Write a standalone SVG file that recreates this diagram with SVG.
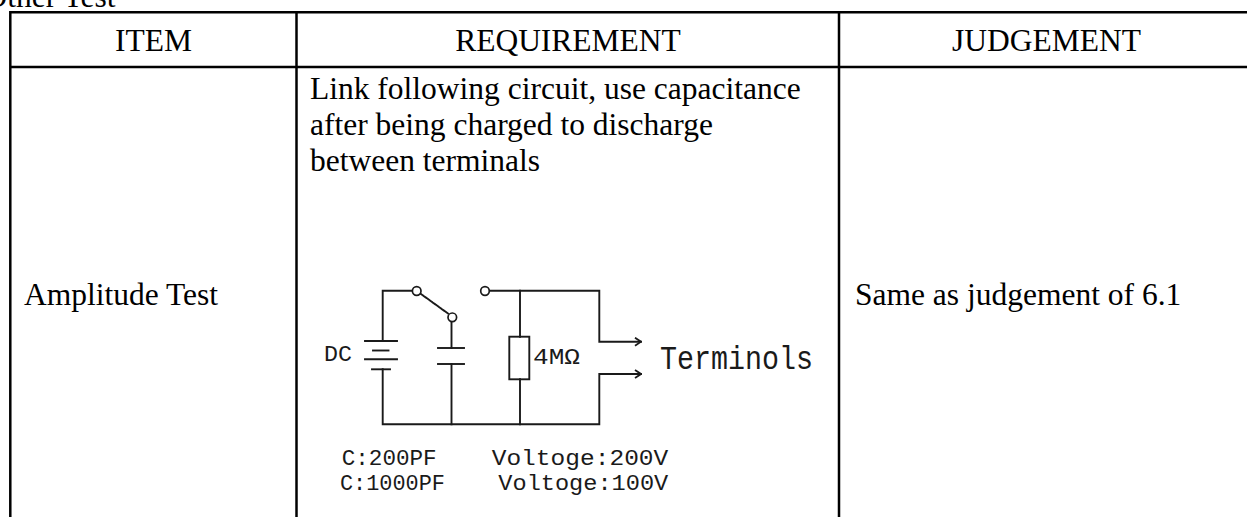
<svg xmlns="http://www.w3.org/2000/svg" width="1247" height="517" viewBox="0 0 1247 517">
<style>
.grid{stroke:#000;stroke-width:2.5;fill:none}
.t{font-family:"Liberation Serif","Times New Roman",serif;font-size:31.5px;fill:#000}
.w{stroke:#1a1a1a;stroke-width:1.9;fill:none;stroke-linecap:square}
.c{stroke:#1a1a1a;stroke-width:1.7;fill:#fff}
.m{font-family:"Liberation Mono","DejaVu Sans Mono",monospace;fill:#1a1a1a}
</style>
<defs>
<marker id="ah" viewBox="0 0 10 10" refX="9" refY="5" markerWidth="10" markerHeight="10" markerUnits="userSpaceOnUse" orient="auto">
<path d="M3,1 L9,5 L3,9" fill="none" stroke="#1a1a1a" stroke-width="1.8"/>
</marker>
</defs>
<rect width="1247" height="517" fill="#fff"/>
<text class="t" x="-15.5" y="6.5">Other Test</text>
<g id="table">
<line class="grid" x1="10.3" y1="12.2" x2="1247" y2="12.2"/>
<line class="grid" x1="10.3" y1="67" x2="1247" y2="67"/>
<line class="grid" x1="10.3" y1="11" x2="10.3" y2="517"/>
<line class="grid" x1="296.5" y1="11" x2="296.5" y2="517"/>
<line class="grid" x1="839" y1="11" x2="839" y2="517"/>
</g>
<g id="header">
<text class="t" x="153.5" y="51" text-anchor="middle">ITEM</text>
<text class="t" x="568" y="51" text-anchor="middle">REQUIREMENT</text>
<text class="t" x="1046.5" y="51" text-anchor="middle">JUDGEMENT</text>
</g>
<g id="item">
<text class="t" x="24" y="305">Amplitude Test</text>
</g>
<g id="requirement">
<text class="t" x="310" y="99">Link following circuit, use capacitance</text>
<text class="t" x="310" y="135">after being charged to discharge</text>
<text class="t" x="310" y="171">between terminals</text>
</g>
<g id="judgement">
<text class="t" x="855" y="305">Same as judgement of 6.1</text>
</g>
<g id="circuit">
<g id="connectors">
<path class="w" d="M382.7,341 V290.7 H412"/>
<path class="w" d="M382.7,369.3 V424.3 H599.3 V374 H641" marker-end="url(#ah)"/>
<path class="w" d="M451.5,321.5 V348"/>
<path class="w" d="M451.5,364 V424.3"/>
<path class="w" d="M489.5,290.7 H599.3 V341.7 H641" marker-end="url(#ah)"/>
<path class="w" d="M520,290.7 V336.7"/>
<path class="w" d="M520,379.3 V424.3"/>
<line class="w" x1="421" y1="294" x2="448" y2="313.5" stroke-width="1.5" stroke-dasharray="2.5 1.2"/>
</g>
<g id="battery">
<line class="w" x1="365" y1="341" x2="397" y2="341"/>
<line class="w" x1="373" y1="350.5" x2="388.5" y2="350.5"/>
<line class="w" x1="365" y1="359.3" x2="397" y2="359.3"/>
<line class="w" x1="372" y1="369.3" x2="390" y2="369.3"/>
</g>
<g id="capacitor">
<line class="w" x1="438" y1="348" x2="464" y2="348"/>
<line class="w" x1="438" y1="364" x2="464" y2="364"/>
</g>
<g id="resistor">
<rect class="w" x="509.3" y="336.7" width="20" height="42.6"/>
</g>
<g id="switch">
<circle class="c" cx="416.7" cy="291" r="4.3"/>
<circle class="c" cx="452.3" cy="317.3" r="4.3"/>
<circle class="c" cx="485" cy="291" r="4.3"/>
</g>
<g id="labels">
<text class="m" x="324" y="360.5" font-size="22" textLength="28" lengthAdjust="spacingAndGlyphs">DC</text>
<text class="m" x="533" y="363.5" font-size="22" textLength="47" lengthAdjust="spacingAndGlyphs">4MΩ</text>
<text class="m" x="660" y="369" font-size="33" textLength="153" lengthAdjust="spacingAndGlyphs">Terminols</text>
<text class="m" x="341.7" y="465" font-size="22" textLength="95" lengthAdjust="spacingAndGlyphs">C:200PF</text>
<text class="m" x="340" y="490" font-size="22" textLength="105" lengthAdjust="spacingAndGlyphs">C:1000PF</text>
<text class="m" x="491.7" y="465" font-size="22" textLength="176.6" lengthAdjust="spacingAndGlyphs">Voltoge:200V</text>
<text class="m" x="498.3" y="490" font-size="22" textLength="170" lengthAdjust="spacingAndGlyphs">Voltoge:100V</text>
</g>
</g>
</svg>
